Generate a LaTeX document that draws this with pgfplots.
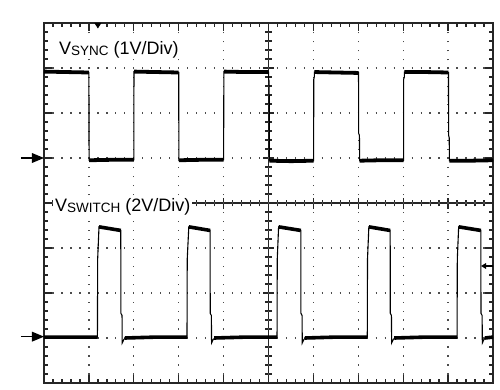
\documentclass[border=0pt]{standalone}
\usepackage{pgfplots}
\pgfplotsset{compat=1.18}
\usepackage{fontspec}
\setmainfont{Liberation Sans}
\newcommand\sub[1]{\raisebox{-1.2pt}{\fontsize{13.5}{14}\selectfont #1}}
\begin{document}
\begin{tikzpicture}
% centre crosshair
\begin{axis}[
  width=449pt,height=360pt,scale only axis,
  xmin=-5,xmax=5,ymin=-4,ymax=4,
  axis lines=middle,
  axis line style={-,line width=1.3pt,black!85},
  xtick={-5,...,5},ytick={-4,...,4},
  minor x tick num=4,minor y tick num=4,
  xticklabels={},yticklabels={},
  tick align=center,
  major tick length=11pt,minor tick length=6.5pt,
  tick style={line width=1.3pt,black!85},
]
\addplot[draw=none] coordinates {(0,0)};
\end{axis}
% main screen
\begin{axis}[
  width=449pt,height=360pt,scale only axis,
  xmin=0,xmax=10,ymin=0,ymax=8,
  xtick={0,...,10},ytick={0,...,8},
  minor x tick num=4,minor y tick num=4,
  xticklabels={},yticklabels={},
  tick align=inside,
  major tick length=8pt,minor tick length=4pt,
  tick style={line width=1.3pt,black!85},
  grid=major,
  major grid style={line width=1.3pt,black!70,dash pattern=on 1.3pt off 7.68pt,dash phase=0.65pt},
  axis line style={line width=1.8pt,black!85},
  clip=false,
  unbounded coords=jump,
]
% V_SYNC trace
\addplot[black,line width=1.1pt] coordinates {
(0,6.92) (1.000,6.90) (1.004,4.95) (2.000,4.96) (2.004,6.92) (3.000,6.90) (3.004,4.95) (4.000,4.96) (4.006,6.92)
(5.000,6.91) (5.003,6.75) (5.015,6.70) (5.018,4.94) (6.005,4.94) (6.008,6.75) (6.020,6.80) (6.022,6.91)
(7.005,6.90) (7.008,5.55) (7.025,5.50) (7.030,4.94) (8.008,4.95) (8.010,6.75) (8.025,6.80) (8.027,6.91)
(9.008,6.90) (9.012,5.50) (9.025,5.45) (9.030,4.94) (10,4.95)};
\addplot[black,line width=3.8pt,line cap=butt] coordinates {
(0,6.92) (0.5,6.91) (1.0,6.90) (1.5,nan)
(1.004,4.95) (1.5,4.96) (2.0,4.96) (2.5,nan)
(2.004,6.92) (2.5,6.91) (3.0,6.90) (3.5,nan)
(3.004,4.95) (3.5,4.96) (4.0,4.96) (4.5,nan)
(4.006,6.92) (4.5,6.91) (5.0,6.91) (5.5,nan)
(5.018,4.94) (5.5,4.93) (6.005,4.94) (6.5,nan)
(6.022,6.91) (6.5,6.90) (7.005,6.89) (7.5,nan)
(7.030,4.94) (7.5,4.95) (8.008,4.95) (8.5,nan)
(8.027,6.91) (8.5,6.91) (9.008,6.90) (9.5,nan)
(9.030,4.94) (9.5,4.94) (10,4.95)};
% V_SWITCH trace
\addplot[black,line width=1.1pt] coordinates {
(0,1.02) (1.190,1.02) (1.195,2.75) (1.225,3.47) (1.71,3.39) (1.712,1.55) (1.738,1.50) (1.742,0.89) (1.78,0.97) (1.84,1.01)
(3.185,1.02) (3.19,2.75) (3.225,3.47) (3.70,3.39) (3.702,1.55) (3.728,1.50) (3.732,0.89) (3.77,0.97) (3.83,1.01)
(5.19,1.02) (5.195,2.75) (5.225,3.47) (5.72,3.39) (5.722,1.55) (5.748,1.50) (5.752,0.89) (5.79,0.97) (5.85,1.01)
(7.20,1.02) (7.205,2.75) (7.235,3.47) (7.71,3.39) (7.712,1.55) (7.738,1.50) (7.742,0.89) (7.78,0.97) (7.84,1.01)
(9.20,1.02) (9.205,2.75) (9.235,3.47) (9.73,3.39) (9.732,1.55) (9.758,1.50) (9.762,0.89) (9.80,0.97) (9.86,1.01) (10,1.02)};
\addplot[black,line width=3.6pt,line cap=butt] coordinates {
(0,1.02) (0.6,1.02) (1.19,1.02) (1.5,nan)
(1.80,1.00) (2.5,1.02) (3.185,1.02) (3.5,nan)
(3.79,1.00) (4.5,1.02) (5.19,1.02) (5.5,nan)
(5.81,1.00) (6.5,1.02) (7.20,1.02) (7.5,nan)
(7.80,1.00) (8.5,1.02) (9.20,1.02) (9.5,nan)
(9.82,1.00) (10,1.02) (10.5,nan)
(1.225,3.47) (1.71,3.39) (2.0,nan)
(3.225,3.47) (3.70,3.39) (4.0,nan)
(5.225,3.47) (5.72,3.39) (6.0,nan)
(7.235,3.47) (7.71,3.39) (8.0,nan)
(9.235,3.47) (9.73,3.39)};
% labels
\node[anchor=base west,fill=white,inner xsep=1pt,inner ysep=1pt] at (axis cs:0.31,7.30)
  {\fontsize{18}{20}\selectfont V\sub{SYNC} (1V/Div)};
\node[anchor=base west,fill=white,inner xsep=2pt,inner ysep=1.5pt] at (axis cs:0.20,3.82)
  {\fontsize{18}{20}\selectfont V\sub{SWITCH} (2V/Div)};
% ground markers
\draw[line width=1.4pt,black] (axis cs:0,5) ++(-23pt,0) -- ++(12pt,0);
\fill[black] (axis cs:0,5) -- ++(-12pt,5pt) -- ++(0,-10pt) -- cycle;
\draw[line width=1.4pt,black] (axis cs:0,1.03) ++(-23pt,0) -- ++(12pt,0);
\fill[black] (axis cs:0,1.03) -- ++(-12pt,5pt) -- ++(0,-10pt) -- cycle;
% trigger markers
\fill[black] (axis cs:1.2,8) ++(-3.5pt,0) -- ++(7pt,0) -- ++(-3.5pt,-5.5pt) -- cycle;
\draw[line width=1.2pt,black] (axis cs:10,2.6) -- ++(-8pt,0);
\fill[black] (axis cs:10,2.6) ++(-12pt,0) -- ++(5pt,3pt) -- ++(0,-6pt) -- cycle;
% page
\path (axis cs:0,0) ++(-44pt,-6pt) rectangle ++(500pt,389pt);
\end{axis}
\end{tikzpicture}
\end{document}
